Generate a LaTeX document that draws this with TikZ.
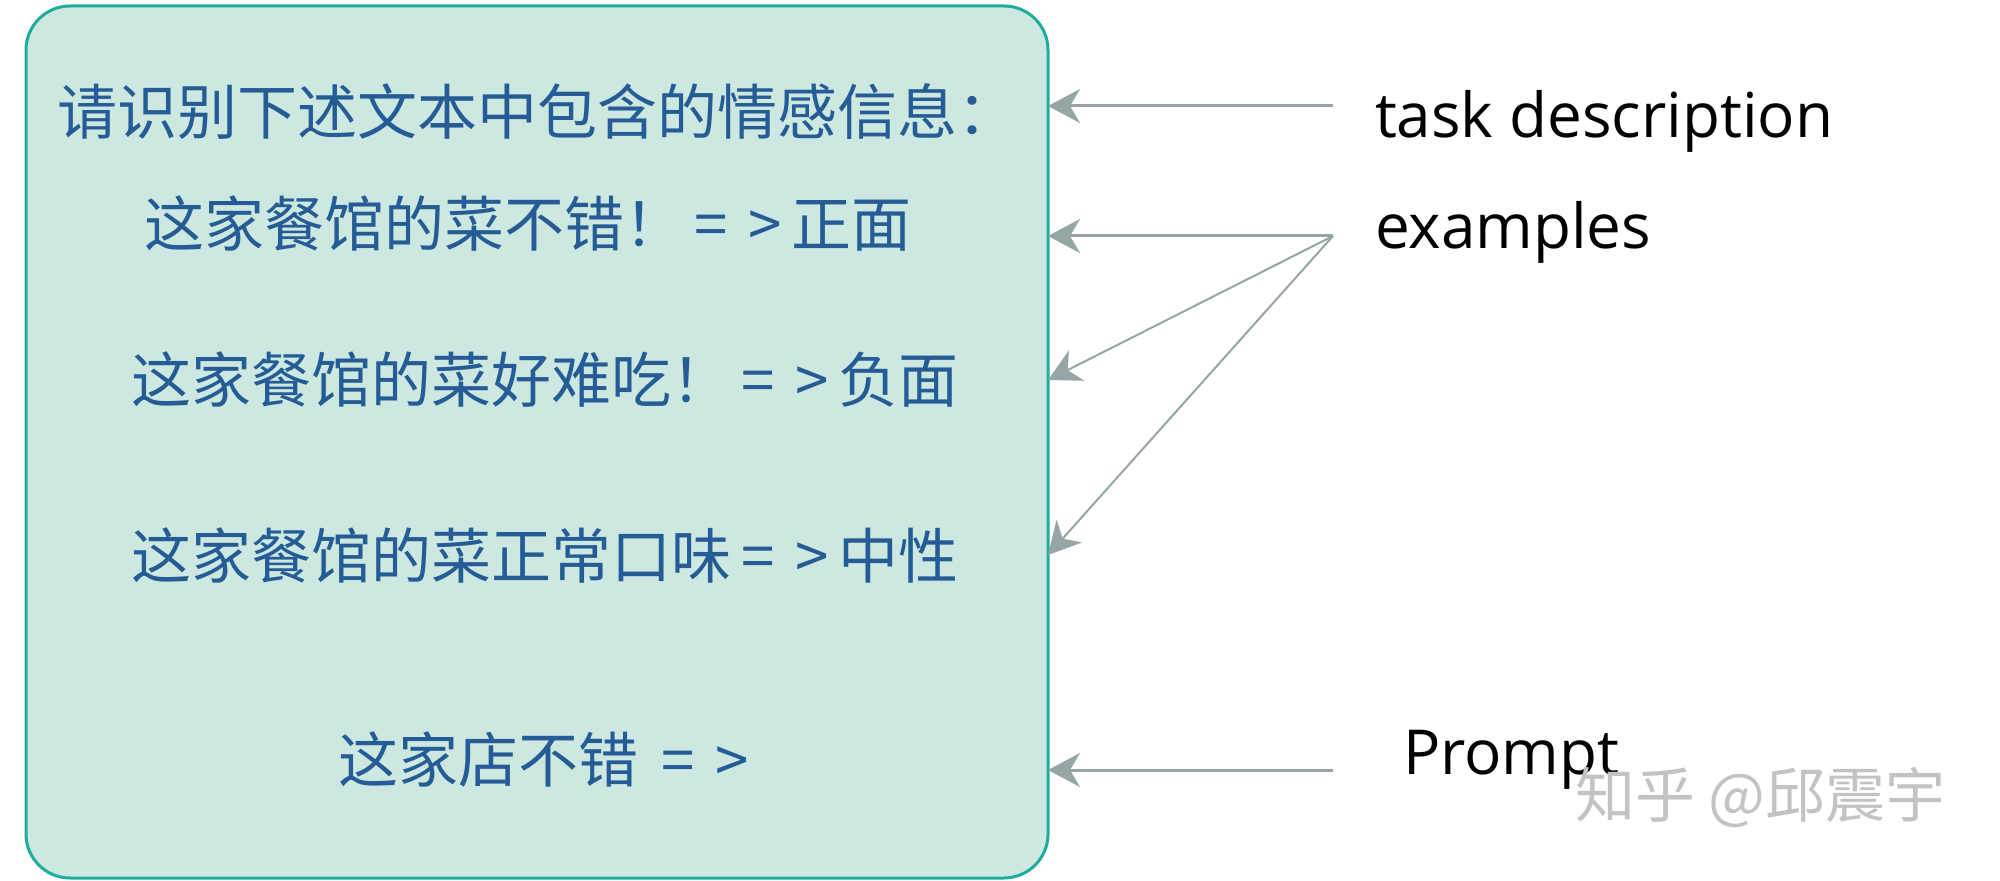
\documentclass[tikz,border=0pt]{standalone}
\usepackage{fontspec}
\setmainfont{Open Sans}
\newfontfamily\cjk{Noto Sans CJK SC}
\newcommand*{\yields}{\makebox[0.9em]{=}\makebox[0.9em]{>}}
\definecolor{panelfill}{RGB}{205,232,224}
\definecolor{paneledge}{RGB}{30,172,156}
\definecolor{linetext}{RGB}{38,92,150}
\definecolor{arrowgray}{RGB}{150,165,165}
\definecolor{markgray}{RGB}{195,195,195}
\usetikzlibrary{arrows.meta}
\usetikzlibrary{positioning}
\tikzstyle{base}=[x=0.5pt, y=-0.5pt, inner sep=0pt, outer sep=0pt]
\tikzstyle{panel}=[draw=paneledge, fill=panelfill, line width=1.5pt, rounded corners=22pt, minimum width=511pt, minimum height=436pt]
\tikzstyle{entry}=[anchor=west, text=linetext, font=\cjk\fontsize{30}{36}\selectfont]
\tikzstyle{side}=[anchor=west, outer xsep=21pt, font=\fontsize{31}{37}\selectfont]
\tikzstyle{pointer}=[draw=arrowgray, line width=1.5pt, -{Stealth[length=16pt, width=17pt, inset=5pt]}]

\begin{document}
\begin{tikzpicture}[base]
    \useasboundingbox (0,0) rectangle (2000,881);
    % the prompt box
    \node [panel] (box) at (537,442) {};
    \node [entry] (l1) at (57,112) {请识别下述文本中包含的情感信息：};
    \node [entry] (l2) at (144,223) {这家餐馆的菜不错！\yields 正面};
    \node [entry] (l3) at (131,380) {这家餐馆的菜好难吃！\yields 负面};
    \node [entry] (l4) at (131,555) {这家餐馆的菜正常口味\yields 中性};
    \node [entry] (l5) at (338,759) {这家店不错 \yields};
    % labels on the right
    \node [side] (task) at (1333,121) {task description};
    \node [side] (examples) at (1333,232) {examples};
    \node [side, outer xsep=35pt] (prompt) at (1333,760) {Prompt};
    \draw [pointer] ([yshift=7.5pt]task.west) -- ([yshift=7.5pt]task.west -| box.east);
    \draw [pointer] ([yshift=-2pt]examples.west) -- ([yshift=-2pt]examples.west -| box.east);
    \draw [pointer, line width=1pt] ([yshift=-2pt]examples.west) -- (box.east |- l3);
    \draw [pointer, line width=1pt] ([yshift=-2pt]examples.west) -- (box.east |- l4);
    \draw [pointer] ([yshift=-5pt]prompt.west) -- ([yshift=-5pt]prompt.west -| box.east);
    \node [anchor=west, text=markgray, font=\cjk\fontsize{30}{36}\selectfont] (mark) at (1575,797) {知乎 @邱震宇};
\end{tikzpicture}
\end{document}
